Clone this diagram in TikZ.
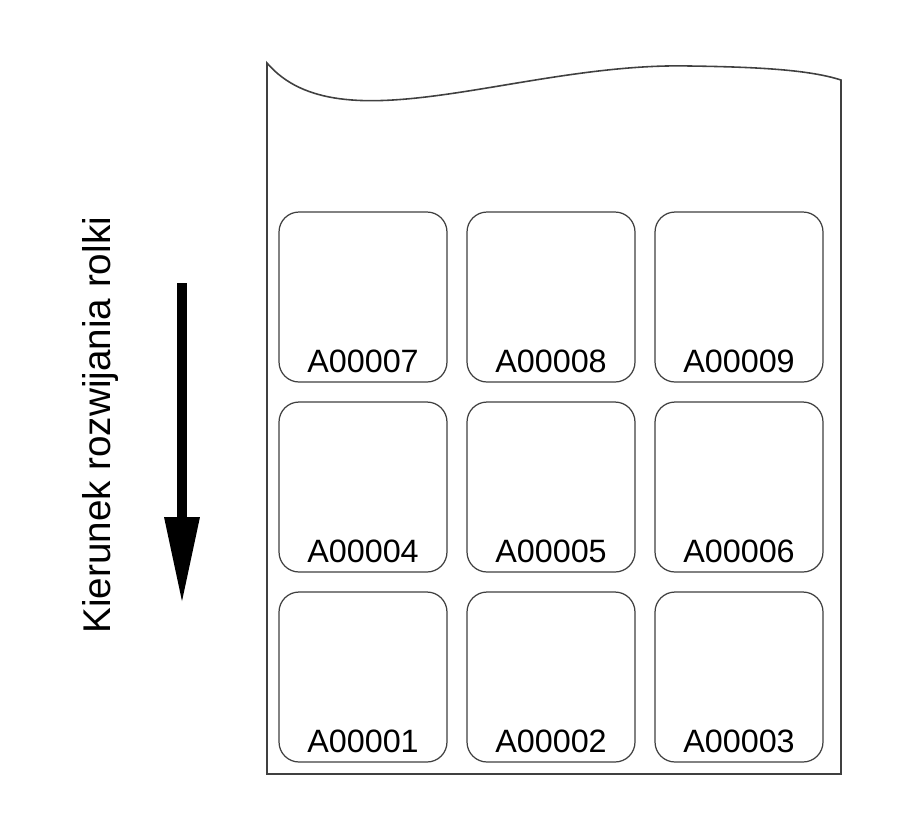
\documentclass[tikz,border=0pt]{standalone}
\usepackage{fontspec}
\setmainfont{Liberation Sans}
\usetikzlibrary{arrows.meta}
\begin{document}
\begin{tikzpicture}[x=0.02cm,y=-0.02cm,
    sheet/.style={line width=0.9pt,draw=black!75,fill=white},
    labelbox/.style={draw=black!75,line width=0.7pt,rounded corners=0.4cm,
        minimum width=3.36cm,minimum height=3.4cm,inner sep=0pt},
    labeltext/.style={font=\fontsize{18.4}{20}\selectfont,anchor=base,inner sep=0pt},
    dirtext/.style={font=\fontsize{22}{24}\selectfont,rotate=90,anchor=base west,inner sep=0pt}]
    % \clip (0,0) rectangle (918,816);
    \useasboundingbox (0,0) rectangle (918,816);

    % Drawing the sheet with wavy torn top
    \draw [sheet] (267,63) .. controls (340,148) and (520,62) .. (690,66)%
        .. controls (760,67) and (810,70) .. (841,80) -- (841,774) -- (267,774) -- cycle;%

    % Marking labels A00001 ... A00009 (bottom row first)
    \foreach \row/\ypos in {0/677,1/487,2/297} {
        \foreach \col/\xpos in {0/363,1/551,2/739} {
            \pgfmathtruncatemacro{\num}{3*\row+\col+1}
            \node [labelbox] (l\num) at (\xpos,\ypos) {};%
            \node [labeltext,yshift=5.7pt] (t\num) at (l\num.south) {A0000\num};%
        }
    }

    % Direction of unrolling
    \node [dirtext] (dir) at (110,634) {Kierunek rozwijania rolki};%
    \coordinate (arrowtop) at (182,283);%
    \coordinate (arrowtip) at (182,605);%
    \draw [line width=6.2pt,-{Triangle[length=50pt,width=18.5pt]}] (arrowtop) -- (arrowtip);%
\end{tikzpicture}
\end{document}
